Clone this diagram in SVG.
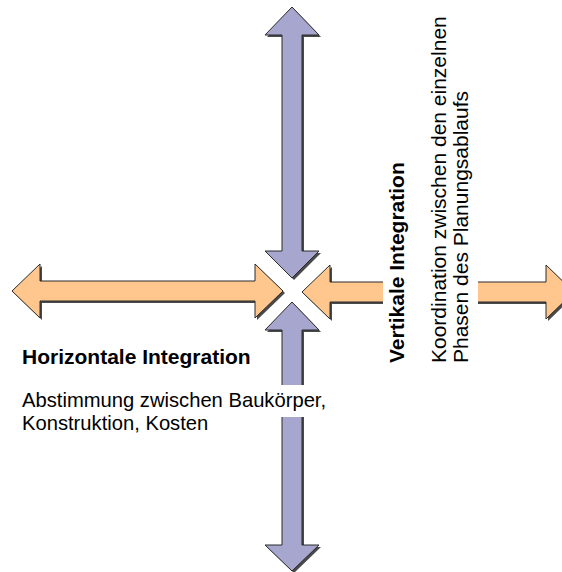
<svg xmlns="http://www.w3.org/2000/svg" width="562" height="572" viewBox="0 0 562 572">
<style>
.shadow{fill:#4a4a4a;stroke:none}
.v{fill:#A6A6CF;stroke:#2a2a2a;stroke-width:1;stroke-linejoin:miter}
.h{fill:#FFC78E;stroke:#2a2a2a;stroke-width:1;stroke-linejoin:miter}
.mask{fill:#ffffff;stroke:none}
.t{font-family:"Liberation Sans",Arial,sans-serif;font-size:21px;fill:#000}
.s{font-size:20.2px}
.b{font-weight:bold}
</style>
<defs>
<polygon id="pTop" points="292,7 319,35 302,35 302,251 319,251 292,278 265,251 282,251 282,35 265,35"/>
<polygon id="pBottom" points="292,302 319,330 302,330 302,545 319,545 292,571 265,545 282,545 282,330 265,330"/>
<polygon id="pLeft" points="12,291 40,264 40,281 255,281 255,264 283,291 255,318 255,301 40,301 40,318"/>
<polygon id="pRight" points="302,292 330,265 330,282 546,282 546,265 574,292 546,319 546,302 330,302 330,319"/>
</defs>
<g id="arrows">
<g id="arrow-top"><use href="#pTop" class="shadow" transform="translate(2,2)"/><use href="#pTop" class="v"/></g>
<g id="arrow-bottom"><use href="#pBottom" class="shadow" transform="translate(2,2)"/><use href="#pBottom" class="v"/></g>
<g id="arrow-left"><use href="#pLeft" class="shadow" transform="translate(2,2)"/><use href="#pLeft" class="h"/></g>
<g id="arrow-right"><use href="#pRight" class="shadow" transform="translate(2,2)"/><use href="#pRight" class="h"/></g>
</g>
<g id="horizontal-label">
<rect class="mask" x="18" y="385" width="340" height="32"/>
<text class="t b" x="22" y="364">Horizontale Integration</text>
<text class="t s" x="22" y="407">Abstimmung zwischen Baukörper,</text>
<text class="t s" x="22" y="430">Konstruktion, Kosten</text>
</g>
<g id="vertical-label">
<rect class="mask" x="383" y="8" width="95" height="358"/>
<text class="t b" transform="translate(404,363) rotate(-90)">Vertikale Integration</text>
<text class="t" transform="translate(446,363) rotate(-90)">Koordination zwischen den einzelnen<tspan x="0" y="22">Phasen des Planungsablaufs</tspan></text>
</g>
</svg>
